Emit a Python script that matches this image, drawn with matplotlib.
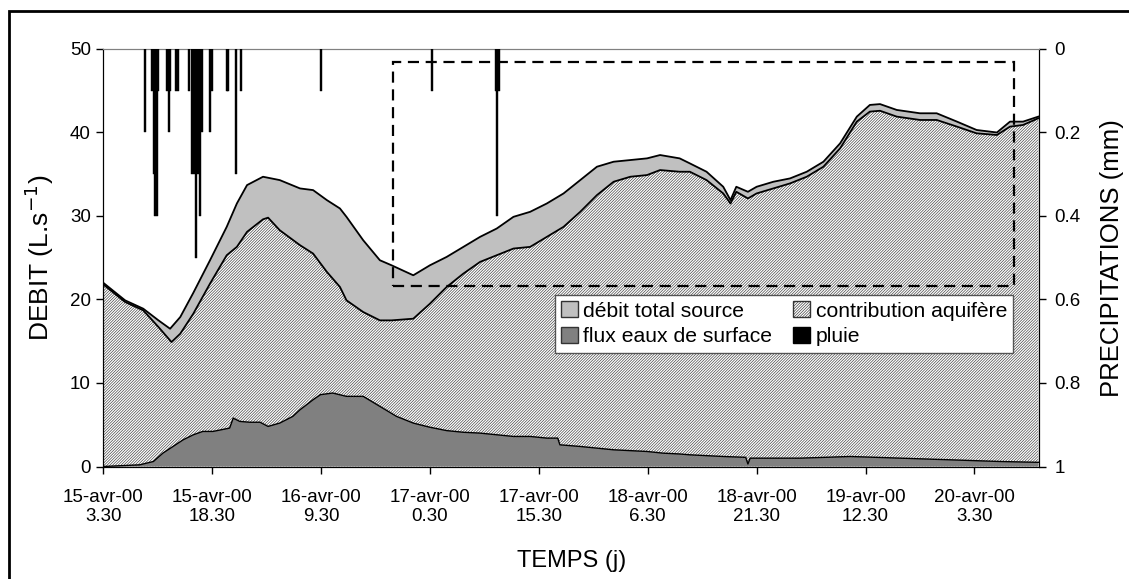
import matplotlib
matplotlib.use("Agg")
import matplotlib.pyplot as plt
from matplotlib.patches import Patch, Rectangle

plt.rcParams['font.family'] = ['Liberation Sans', 'DejaVu Sans']
plt.rcParams['hatch.color'] = '#3a3a3a'
plt.rcParams['hatch.linewidth'] = 0.45

# time in hours since 15-avr-00 3.30
t_total = [0, 3.0, 5.5, 7.6, 9.2, 10.6, 12.4, 14.7, 17.0, 18.4, 19.8, 22.0, 24.3, 27.1, 28.9,
           30.8, 32.6, 33.5, 35.8, 38.1, 39.7, 42.7, 45.0, 47.3, 49.6, 51.9, 54.2, 56.5, 58.8,
           61.1, 63.4, 65.7, 68.0, 70.3, 72.6, 74.9, 76.7, 79.4, 80.8, 83.1, 85.4, 86.4, 87.2,
           88.8, 90.0, 92.3, 94.6, 96.9, 99.2, 101.5, 103.8, 105.6, 107.0, 109.3, 112.5, 114.8,
           117.6, 120.3, 123.1, 124.9, 126.7, 128.8]
debit_total = [22.0, 19.9, 18.9, 17.5, 16.5, 17.9, 20.8, 24.7, 28.7, 31.5, 33.7, 34.7, 34.3, 33.3, 33.1,
               31.9, 30.9, 29.9, 27.1, 24.7, 24.1, 22.9, 24.1, 25.1, 26.3, 27.5, 28.5, 29.9, 30.5,
               31.5, 32.7, 34.3, 35.9, 36.5, 36.7, 36.9, 37.3, 36.9, 36.3, 35.3, 33.5, 31.9, 33.5,
               32.9, 33.5, 34.1, 34.5, 35.3, 36.5, 38.7, 41.9, 43.3, 43.4, 42.7, 42.3, 42.3,
               41.3, 40.3, 40.0, 41.3, 41.3, 41.9]

t_aqui = [0, 3.0, 5.5, 7.6, 9.4, 10.6, 12.4, 14.7, 17.0, 18.4, 19.8, 22.0, 22.7, 24.3, 27.1, 28.9,
          30.8, 32.6, 33.5, 35.8, 38.1, 39.7, 42.7, 45.0, 47.3, 49.6, 51.9, 54.2, 56.5, 58.8,
          61.1, 63.4, 65.7, 68.0, 70.3, 72.6, 74.9, 76.7, 79.4, 80.8, 83.1, 85.4, 86.4, 87.2,
          88.8, 90.0, 92.3, 94.6, 96.9, 99.2, 101.5, 103.8, 105.6, 107.0, 109.3, 112.5, 114.8,
          117.6, 120.3, 123.1, 124.9, 126.7, 128.8]
contrib_aquifere = [21.8, 19.7, 18.7, 16.7, 14.9, 15.9, 18.3, 21.9, 25.3, 26.3, 28.1, 29.6, 29.8, 28.3, 26.5, 25.5,
                    23.3, 21.5, 19.9, 18.5, 17.5, 17.5, 17.7, 19.5, 21.5, 23.1, 24.5, 25.3, 26.1, 26.3,
                    27.5, 28.7, 30.5, 32.5, 34.1, 34.7, 34.9, 35.5, 35.3, 35.3, 34.3, 32.7, 31.5, 32.9,
                    32.1, 32.7, 33.3, 33.9, 34.7, 35.9, 38.1, 41.3, 42.5, 42.6, 41.9, 41.5, 41.5,
                    40.7, 39.9, 39.7, 40.7, 40.9, 41.7]

t_surf = [0, 5.0, 6.9, 8.2, 9.6, 11.0, 12.4, 13.7, 15.1, 17.4, 17.9, 18.8, 20.2, 21.6, 22.7, 24.3,
          26.1, 27.1, 28.9, 29.9, 31.6, 33.5, 35.8, 38.1, 40.4, 42.7, 45.0, 47.3, 49.6, 51.9,
          54.2, 56.5, 58.8, 61.1, 62.6, 62.9, 65.7, 68.0, 70.3, 72.6, 74.9, 77.1, 79.4, 80.8,
          85.4, 88.5, 88.8, 89.1, 90.5, 96.0, 102.9, 109.8, 116.7, 123.5, 128.8]
flux_surface = [0, 0.2, 0.6, 1.6, 2.4, 3.2, 3.8, 4.2, 4.2, 4.6, 5.8, 5.4, 5.3, 5.3, 4.8, 5.2,
                6.0, 6.8, 8.0, 8.6, 8.8, 8.4, 8.4, 7.2, 6.0, 5.2, 4.7, 4.3, 4.1, 4.0,
                3.8, 3.6, 3.6, 3.4, 3.4, 2.6, 2.4, 2.2, 2.0, 1.9, 1.8, 1.6, 1.5, 1.4,
                1.2, 1.1, 0.3, 1.0, 1.0, 1.0, 1.2, 1.0, 0.8, 0.6, 0.5]

t_pluie = [5.75, 6.77, 7.0, 7.18, 7.37, 7.57, 8.81, 9.01, 9.19, 10.03, 10.28, 11.74,
           12.18, 12.43, 12.73, 12.98, 13.28, 13.55, 14.72, 15.0, 16.99, 17.24, 18.26, 18.99,
           29.97, 45.23, 54.05, 54.26, 54.5]
pluie = [0.2, 0.1, 0.3, 0.4, 0.4, 0.1, 0.1, 0.2, 0.1, 0.1, 0.1, 0.1,
         0.3, 0.3, 0.5, 0.3, 0.4, 0.2, 0.2, 0.1, 0.1, 0.1, 0.3, 0.1,
         0.1, 0.1, 0.1, 0.4, 0.1]

tick_hours = [0, 15, 30, 45, 60, 75, 90, 105, 120]
tick_labels = ['15-avr-00\n3.30', '15-avr-00\n18.30', '16-avr-00\n9.30', '17-avr-00\n0.30',
               '17-avr-00\n15.30', '18-avr-00\n6.30', '18-avr-00\n21.30', '19-avr-00\n12.30',
               '20-avr-00\n3.30']

# zoom window (dashed rectangle)
zone_t = [39.9, 125.4]
zone_q = [21.6, 48.4]

fig = plt.figure(figsize=(11.29, 5.79), dpi=100)
ax = fig.add_axes([0.0915, 0.1943, 0.8288, 0.7211])

c_light = '#c0c0c0'
c_dark = '#808080'
hatch = '////////////'

ax.fill_between(t_total, 0, debit_total, facecolor=c_light, edgecolor='none', zorder=1)
ax.plot(t_total, debit_total, color='black', lw=1.3, zorder=4)
ax.fill_between(t_aqui, 0, contrib_aquifere, facecolor='white', hatch=hatch, edgecolor='#3a3a3a',
                linewidth=0, zorder=2)
ax.plot(t_aqui, contrib_aquifere, color='black', lw=1.3, zorder=4)
ax.fill_between(t_surf, 0, flux_surface, facecolor=c_dark, edgecolor='none', zorder=3)
ax.plot(t_surf, flux_surface, color='black', lw=1.0, zorder=4)

ax.add_patch(Rectangle((zone_t[0], zone_q[0]), zone_t[1] - zone_t[0], zone_q[1] - zone_q[0],
                       fill=False, edgecolor='black', lw=1.6, linestyle=(0, (5, 3)), zorder=5))

ax.set_xlim(0, 128.9)
ax.set_ylim(0, 50)
ax.set_xticks(tick_hours)
ax.set_xticklabels(tick_labels)
ax.set_yticks([0, 10, 20, 30, 40, 50])
ax.tick_params(axis='both', direction='out', length=5, width=1, labelsize=13.5, pad=4)
ax.tick_params(axis='x', pad=11)
ax.set_ylabel('DEBIT (L.s$^{-1}$)', fontsize=19, labelpad=10)
ax.set_xlabel('TEMPS (j)', fontsize=17, labelpad=18)
for s in ['left', 'bottom', 'right']:
    ax.spines[s].set_color('black')
ax.spines['top'].set_color('#808080')

ax2 = ax.twinx()
ax2.bar(t_pluie, pluie, width=0.27, color='black', edgecolor='black', linewidth=0.3, zorder=6)
ax2.set_ylim(1, 0)
ax2.set_yticks([0, 0.2, 0.4, 0.6, 0.8, 1.0])
ax2.set_yticklabels(['0', '0.2', '0.4', '0.6', '0.8', '1'])
ax2.tick_params(axis='y', direction='out', length=5, width=1, labelsize=13.5, pad=6)
ax2.set_ylabel('PRECIPITATIONS (mm)', fontsize=18.5, labelpad=14)
ax2.spines['top'].set_color('#808080')

handles = [Patch(facecolor=c_light, edgecolor='#333333', label='débit total source'),
           Patch(facecolor=c_dark, edgecolor='#333333', label='flux eaux de surface'),
           Patch(facecolor='white', edgecolor='#333333', hatch=hatch, label='contribution aquifère'),
           Patch(facecolor='black', edgecolor='black', label='pluie')]
leg = ax2.legend(handles=handles, ncol=2, loc='upper left', bbox_to_anchor=(0.4825, 0.411),
                 fontsize=15.2, frameon=True, fancybox=False, handlelength=0.8, handleheight=0.8,
                 handletextpad=0.25, columnspacing=1.0, borderpad=0.3, labelspacing=0.3,
                 borderaxespad=0)
leg.get_frame().set_edgecolor('#555555')
leg.get_frame().set_linewidth(1.0)
leg.get_frame().set_alpha(1)
leg.set_zorder(10)

fig.patches.append(Rectangle((9 / 1129, -0.05), 1.2, 1 - 11 / 579 + 0.05, transform=fig.transFigure,
                             fill=False, edgecolor='black', lw=2))

fig.savefig('out.png', dpi=100)
